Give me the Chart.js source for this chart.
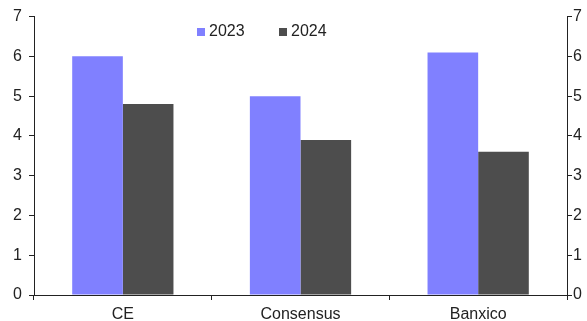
<!DOCTYPE html>
<html>
<head>
<meta charset="utf-8">
<script src="https://cdn.jsdelivr.net/npm/chart.js@4"></script>
<style>
  html, body { margin: 0; padding: 0; background: #fff; }
  #wrap { width: 587px; height: 321px; }
</style>
</head>
<body>
<div id="wrap"><canvas id="chart" width="587" height="321"></canvas></div>
<script>
// data
const categories = ['CE', 'Consensus', 'Banxico'];
const values2023 = [6.0, 5.0, 6.1];
const values2024 = [4.8, 3.9, 3.6];
const yTicks = [0, 1, 2, 3, 4, 5, 6, 7];

const FONT = { family: '"Liberation Sans", Arial, sans-serif', size: 16 };

// legend drawn inside the plot area, like the original
const insideLegend = {
  id: 'insideLegend',
  afterDraw(chart, args, opts) {
    const ctx = chart.ctx;
    ctx.save();
    ctx.font = FONT.size + 'px ' + FONT.family;
    ctx.textBaseline = 'middle';
    chart.data.datasets.forEach((ds, i) => {
      const x = opts.x + i * opts.gap;
      ctx.fillStyle = ds.backgroundColor;
      ctx.fillRect(x, opts.y - 4, 8, 8);
      ctx.fillStyle = '#222';
      ctx.fillText(ds.label, x + 12, opts.y);
    });
    ctx.restore();
  }
};

new Chart(document.getElementById('chart').getContext('2d'), {
  type: 'bar',
  data: {
    labels: categories,
    datasets: [
      { label: '2023', data: values2023, backgroundColor: '#8080FF', yAxisID: 'y' },
      { label: '2024', data: values2024, backgroundColor: '#4D4D4D', yAxisID: 'y' }
    ]
  },
  options: {
    responsive: false,
    animation: false,
    layout: { padding: { top: 15, left: 0, right: 0, bottom: 0 } },
    datasets: { bar: { categoryPercentage: 0.57, barPercentage: 1.0 } },
    plugins: {
      legend: { display: false },
      tooltip: { enabled: false },
      insideLegend: { x: 197, y: 32, gap: 82 }
    },
    scales: {
      x: {
        grid: { drawOnChartArea: false, drawTicks: true, tickLength: 5, color: '#222', offset: true },
        border: { color: '#222', width: 1 },
        ticks: { color: '#222', font: FONT, padding: 5 },
        afterFit(s) { s.height = 26; }
      },
      y: {
        position: 'left',
        min: 0, max: 7,
        afterBuildTicks(s) { s.ticks = yTicks.map(v => ({ value: v })); },
        grid: { drawOnChartArea: false, drawTicks: true, tickLength: 5, color: '#222' },
        border: { color: '#222', width: 1 },
        ticks: { color: '#222', font: FONT, padding: 7 },
        afterFit(s) { s.width = 34; }
      },
      y2: {
        position: 'right',
        min: 0, max: 7,
        afterBuildTicks(s) { s.ticks = yTicks.map(v => ({ value: v })); },
        grid: { drawOnChartArea: false, drawTicks: true, tickLength: 5, color: '#222' },
        border: { color: '#222', width: 1 },
        ticks: { color: '#222', font: FONT, padding: 1 },
        afterFit(s) { s.width = 20; }
      }
    }
  },
  plugins: [insideLegend]
});
</script>
</body>
</html>
